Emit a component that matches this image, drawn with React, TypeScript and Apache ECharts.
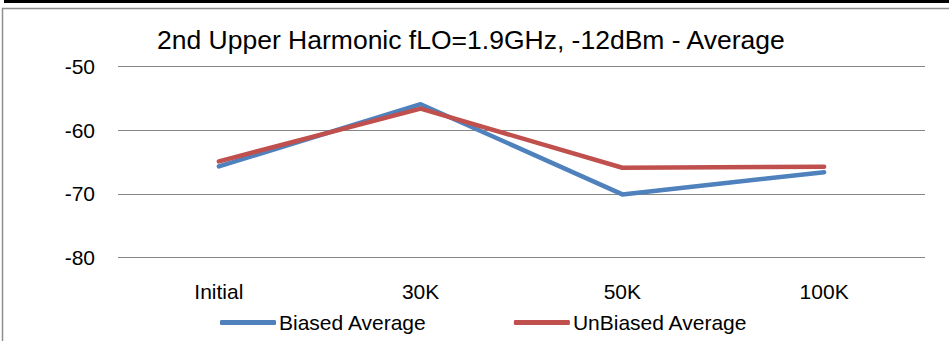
import React, { useEffect, useRef } from "react";
import * as echarts from "echarts";

const categories = ["Initial", "30K", "50K", "100K"];
const biasedAverage = [-65.7, -55.9, -70.1, -66.6];
const unbiasedAverage = [-64.9, -56.6, -65.9, -65.75];
const yMin = -80;
const yMax = -50;
const yInterval = 10;
const titleText = "2nd Upper Harmonic fLO=1.9GHz, -12dBm - Average";
const seriesNames = ["Biased Average", "UnBiased Average"];

const FONT = "'Liberation Sans', Arial, sans-serif";

export default function App() {
  const ref = useRef<HTMLDivElement>(null);
  useEffect(() => {
    if (!ref.current) return;
    const chart = echarts.init(ref.current, undefined, { renderer: "svg" });
    chart.setOption({
      animation: false,
      backgroundColor: "#ffffff",
      title: {
        text: titleText,
        left: 157,
        top: 26,
        padding: 0,
        textStyle: { fontFamily: FONT, fontSize: 26.5, fontWeight: "normal", color: "#000000" },
      },
      graphic: [
        { type: "rect", shape: { x: 4, y: 0, width: 945, height: 3 }, style: { fill: "#000000" }, z: 100 },
        {
          type: "polyline",
          shape: { points: [[2.5, 345], [2.5, 8.5], [949, 8.5]] },
          style: { stroke: "#8f8f8f", lineWidth: 1.5, fill: "none" },
          z: 100,
        },
      ],
      legend: {
        left: 220,
        top: 312,
        padding: 0,
        itemWidth: 56,
        itemHeight: 5,
        itemGap: 87,
        icon: "roundRect",
        textStyle: { fontFamily: FONT, fontSize: 21, color: "#000000", padding: [0, 0, 0, -2] },
        data: seriesNames,
      },
      grid: { left: 118, right: 24, top: 66.7, bottom: 83.7, containLabel: false },
      xAxis: {
        type: "category",
        data: categories,
        boundaryGap: true,
        axisLine: { show: false },
        axisTick: { show: false },
        axisLabel: { fontFamily: FONT, fontSize: 21, color: "#000000", margin: 24 },
        splitLine: { show: false },
      },
      yAxis: {
        type: "value",
        min: yMin,
        max: yMax,
        interval: yInterval,
        axisLine: { show: false },
        axisTick: { show: false },
        axisLabel: { fontFamily: FONT, fontSize: 21, color: "#000000", margin: 23 },
        splitLine: { show: true, lineStyle: { color: "#868686", width: 1.2 } },
      },
      series: [
        {
          name: seriesNames[0],
          type: "line",
          data: biasedAverage,
          symbol: "none",
          color: "#4F81BD",
          lineStyle: { width: 4.5, color: "#4F81BD", cap: "round", join: "round" },
        },
        {
          name: seriesNames[1],
          type: "line",
          data: unbiasedAverage,
          symbol: "none",
          color: "#C0504D",
          lineStyle: { width: 4.5, color: "#C0504D", cap: "round", join: "round" },
        },
      ],
    });
    return () => chart.dispose();
  }, []);
  return (
    <div
      ref={ref}
      style={{ position: "fixed", left: 0, top: 0, width: 949, height: 341, background: "#fff" }}
    />
  );
}
